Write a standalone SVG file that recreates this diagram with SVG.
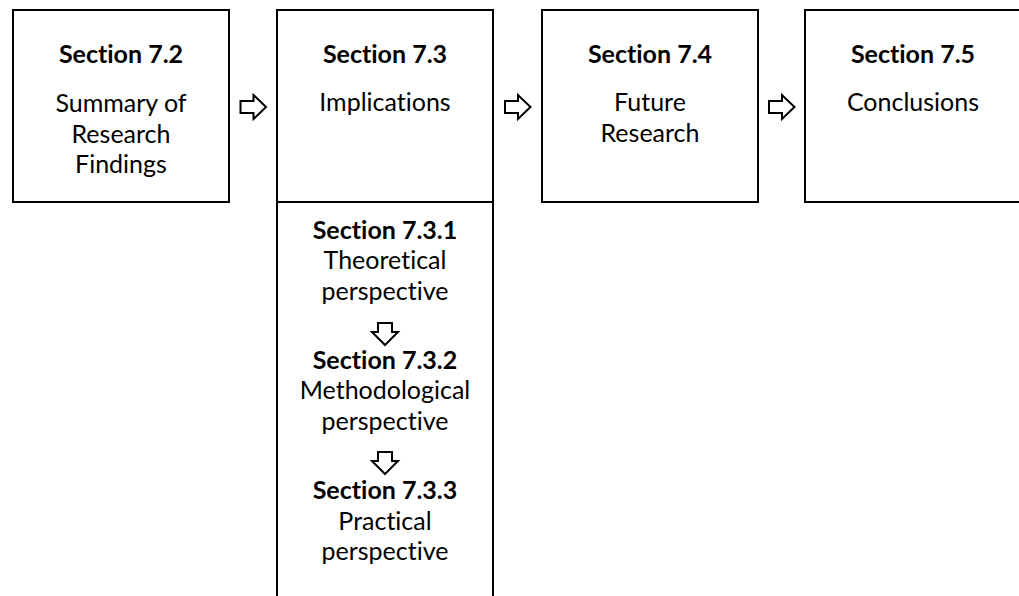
<svg xmlns="http://www.w3.org/2000/svg" width="1019" height="596" viewBox="0 0 1019 596">
<style>
.box{fill:#fff;stroke:#000;stroke-width:2}
.arr{fill:#fff;stroke:#000;stroke-width:2;stroke-linejoin:miter}
text{font-family:Lato,"Open Sans",sans-serif;font-size:25px;fill:#000;text-anchor:middle;font-variant-ligatures:none;font-feature-settings:"liga" 0,"dlig" 0}
.b{font-weight:bold}
</style>
<rect width="1019" height="596" fill="#fff"/>
<g id="node-7-2">
<rect class="box" x="13" y="10" width="216" height="192"/>
<text class="b" x="121" y="63">Section 7.2</text>
<text x="121" y="112">Summary of</text>
<text x="121" y="143">Research</text>
<text x="121" y="173">Findings</text>
</g>
<g id="node-7-3">
<rect class="box" x="277" y="10" width="216" height="192"/>
<text class="b" x="385" y="63">Section 7.3</text>
<text x="385" y="111">Implications</text>
</g>
<g id="node-7-3-sub">
<rect class="box" x="277" y="202" width="216" height="410"/>
<text class="b" x="385" y="239">Section 7.3.1</text>
<text x="385" y="269">Theoretical</text>
<text x="385" y="300">perspective</text>
<text class="b" x="385" y="369">Section 7.3.2</text>
<text x="385" y="399">Methodological</text>
<text x="385" y="430">perspective</text>
<text class="b" x="385" y="499">Section 7.3.3</text>
<text x="385" y="530">Practical</text>
<text x="385" y="560">perspective</text>
</g>
<g id="node-7-4">
<rect class="box" x="542" y="10" width="216" height="192"/>
<text class="b" x="650" y="63">Section 7.4</text>
<text x="650" y="111">Future</text>
<text x="650" y="142">Research</text>
</g>
<g id="node-7-5">
<rect class="box" x="805" y="10" width="224" height="192"/>
<text class="b" x="913" y="63">Section 7.5</text>
<text x="913" y="111">Conclusions</text>
</g>
<g id="connectors">
<path class="arr" d="M240.5,101 H253.5 V95 L266,107 L253.5,119 V113 H240.5 Z"/>
<path class="arr" d="M505,101 H518 V95 L530.5,107 L518,119 V113 H505 Z"/>
<path class="arr" d="M769,101 H782 V95 L794.5,107 L782,119 V113 H769 Z"/>
<path class="arr" d="M378,323 H392 V332 H398 L385,345 L372,332 H378 Z"/>
<path class="arr" d="M378,452 H392 V461 H398 L385,474 L372,461 H378 Z"/>
</g>
</svg>
